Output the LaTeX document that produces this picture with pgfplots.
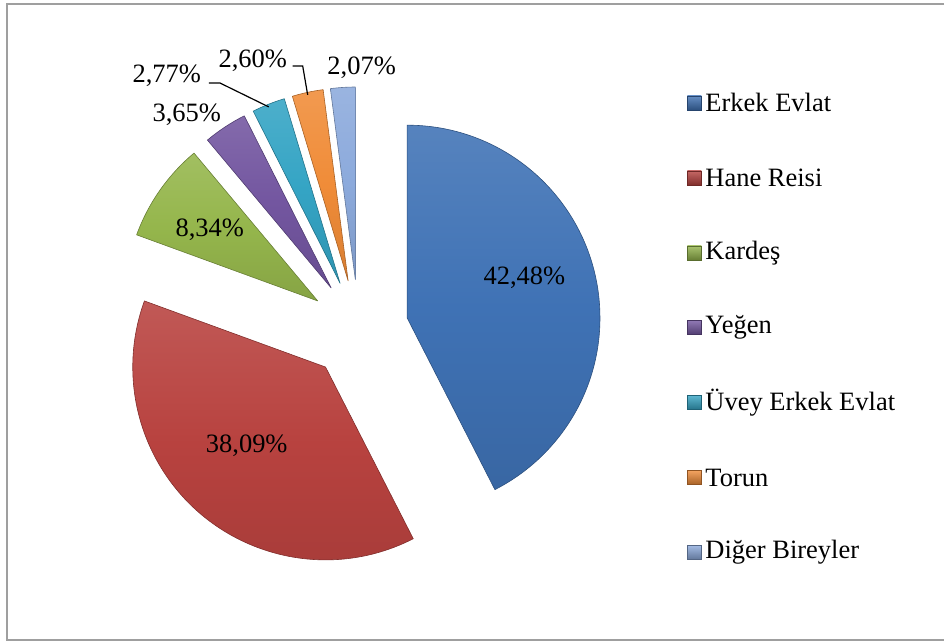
\documentclass[border=0pt]{standalone}
\usepackage{pgfplots}
\pgfplotsset{compat=1.18}
\usepackage{fontspec}
\setmainfont{Liberation Serif}
\definecolor{c1}{HTML}{3F72B5}
\definecolor{c2}{HTML}{B8423F}
\definecolor{c3}{HTML}{95B64C}
\definecolor{c4}{HTML}{7356A0}
\definecolor{c5}{HTML}{34A4C4}
\definecolor{c6}{HTML}{F08C38}
\definecolor{c7}{HTML}{8CAADC}
\begin{document}
\begin{tikzpicture}
\begin{axis}[x=1pt,y=1pt,xmin=0,xmax=945,ymin=0,ymax=643,hide axis,scale only axis,clip=false]
\path (axis cs:0,0) rectangle (axis cs:945,643);
\draw[gray!75,line width=2pt] (axis cs:945,639) -- (axis cs:7.5,639) -- (axis cs:7.5,2) -- (axis cs:945,2);
% pie: values in percent
\gdef\s{90}
\foreach \v/\c in {42.48/c1,38.09/c2,8.34/c3,3.65/c4,2.77/c5,2.60/c6,2.07/c7} {
  \pgfmathsetmacro\e{\s-3.6*\v}
  \pgfmathsetmacro\m{(\s+\e)/2}
  \pgfmathsetmacro\cx{359+50*cos(\m)}
  \pgfmathsetmacro\cy{313+50*sin(\m)}
  \edef\temp{\noexpand\path[shade,top color=\c!88!white,bottom color=\c!90!black,middle color=\c,draw=\c!70!black,line width=0.6pt,line join=round] (axis cs:\cx,\cy) -- ++(\s:193pt) arc[start angle=\s,end angle=\e,radius=193pt] -- cycle;}
  \temp
  \xdef\s{\e}
}
\begin{scope}[font=\fontsize{26.5}{31}\selectfont]
\node at (axis cs:525,365) {42,48\%};
\node at (axis cs:247,197) {38,09\%};
\node at (axis cs:210,413) {8,34\%};
\node at (axis cs:187,528) {3,65\%};
\node at (axis cs:167,567) {2,77\%};
\node at (axis cs:253,582) {2,60\%};
\node at (axis cs:362,575) {2,07\%};
\draw[line width=1.2pt] (axis cs:209,560) -- (axis cs:220,560) -- (axis cs:269,536);
\draw[line width=1.2pt] (axis cs:293,577) -- (axis cs:303,577) -- (axis cs:308,548);
% legend
\foreach \lab/\c [count=\i from 0] in {Erkek Evlat/c1,Hane Reisi/c2,Kardeş/c3,Yeğen/c4,Üvey Erkek Evlat/c5,Torun/c6,Diğer Bireyler/c7} {
  \pgfmathsetmacro\yy{643-103-75*\i}
  \edef\temp{\noexpand\path[shade,top color=\c!80!white,bottom color=\c!70!black,draw=\c!60!black,line width=0.4pt] (axis cs:688,\yy-7) rectangle (axis cs:702,\yy+7);
  \noexpand\node[anchor=west,inner sep=0pt] at (axis cs:706,\yy) {\lab};}
  \temp
}
\end{scope}
\end{axis}
\end{tikzpicture}
\end{document}
